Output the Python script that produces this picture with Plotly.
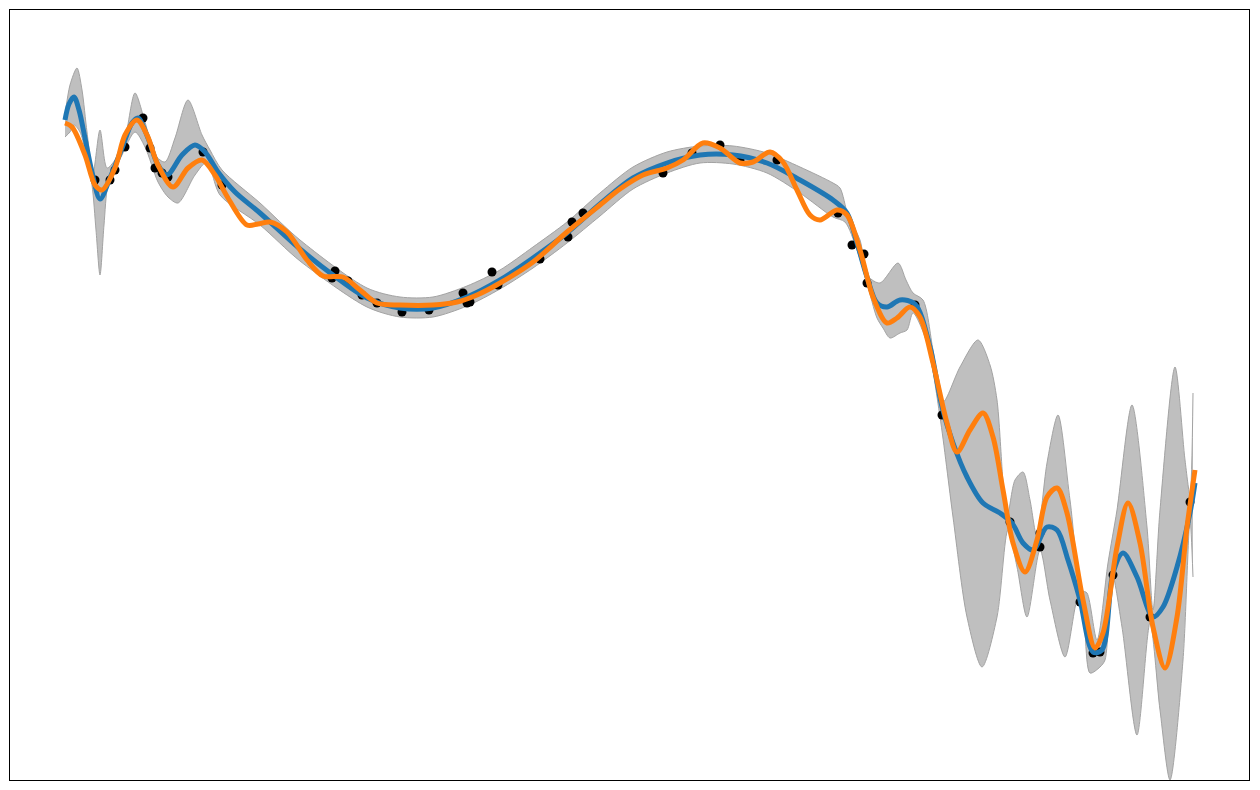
import plotly.graph_objects as go

# GP regression picture: observations, posterior mean, +/- band and one sample.
# Values in its own plot units (y grows downwards).

obs_x = [95, 110, 115, 125, 143, 150, 155, 162, 168, 203, 222, 335, 332, 348, 362,
         377, 402, 429, 463, 467, 470, 492, 498, 540, 568, 572, 583, 663, 692, 720,
         740, 777, 838, 852, 864, 867, 915, 942, 1010, 1040, 1040, 1080, 1093, 1100,
         1113, 1150, 1190]
obs_y = [180, 180, 170, 147, 118, 148, 168, 173, 177, 152, 185, 271, 278, 281, 295,
         303, 312, 310, 293, 303, 302, 272, 285, 259, 237, 222, 213, 173, 153, 145,
         160, 160, 213, 245, 254, 283, 305, 415, 522, 533, 547, 602, 653, 652,
         575, 617, 502]

mean_x = [65, 69, 74, 79, 85, 92, 100, 110, 122, 132, 138, 148, 158, 167, 182, 195,
          205, 218, 235, 260, 300, 333, 367, 400, 433, 467, 500, 533, 567, 600, 633,
          667, 700, 733, 767, 800, 833, 847, 857, 867, 877, 887, 900, 915, 930, 942,
          953, 967, 983, 1000, 1012, 1023, 1033, 1047, 1057, 1068, 1080, 1093, 1102,
          1113, 1123, 1137, 1153, 1163, 1177, 1190, 1195]
mean_y = [120, 104, 97, 110, 138, 172, 199, 178, 148, 123, 118, 138, 165, 175, 155, 145,
          152, 172, 192, 213, 249, 275, 298, 308, 308, 297, 280, 258, 233, 204, 178,
          163, 155, 155, 163, 180, 200, 213, 243, 277, 303, 307, 300, 304, 347, 407,
          443, 477, 503, 513, 523, 543, 550, 527, 530, 560, 600, 652, 650,
          573, 553, 577, 617, 607, 567, 513, 483]

sample_x = [65, 72, 85, 95, 102, 115, 125, 137, 147, 158, 173, 188, 202, 215, 228, 247,
            258, 270, 287, 307, 323, 343, 360, 377, 400, 433, 457, 477, 500, 533, 567,
            600, 620, 643, 667, 683, 703, 720, 740, 753, 770, 783, 797, 810, 820, 837,
            847, 860, 873, 887, 897, 910, 920, 933, 947, 957, 970, 983, 993, 1003,
            1013, 1025, 1037, 1047, 1057, 1067, 1083, 1095, 1103, 1117, 1128, 1140,
            1153, 1165, 1177, 1187, 1195]
sample_y = [123, 127, 155, 185, 190, 168, 135, 120, 135, 165, 187, 168, 160, 175, 198, 225,
            224, 222, 232, 260, 276, 277, 290, 303, 305, 305, 302, 295, 283, 262, 232,
            205, 189, 175, 168, 160, 143, 148, 163, 162, 152, 162, 190, 215, 220, 210,
            215, 250, 297, 323, 318, 307, 317, 363, 423, 452, 430, 413, 437, 490,
            543, 572, 540, 497, 488, 513, 600, 648, 633, 547, 503, 543,
            627, 668, 617, 527, 470]

upper_x = [65, 70, 77, 82, 87, 93, 100, 107, 115, 125, 135, 145, 155, 165, 175, 188,
           202, 210, 222, 260, 300, 367, 400, 433, 467, 500, 533, 567, 600, 633, 667,
           700, 733, 767, 800, 833, 840, 848, 860, 868, 880, 898, 906, 913, 923, 933,
           943, 960, 978, 990, 997, 1007, 1015, 1023, 1030, 1037, 1047, 1058, 1070,
           1082, 1087, 1097, 1108, 1117, 1132, 1147, 1153, 1160, 1175, 1185, 1190, 1193]
upper_y = [115, 85, 68, 90, 132, 173, 130, 168, 160, 138, 93, 122, 155, 162, 138, 100,
           135, 150, 170, 203, 240, 288, 297, 297, 286, 270, 247, 222, 193, 167, 152,
           146, 146, 153, 167, 183, 188, 215, 240, 276, 283, 263, 280, 293, 300, 350,
           402, 367, 340, 365, 400, 517, 480, 472, 500, 537, 463, 415, 500,
           590, 593, 640, 563, 510, 405, 527, 610, 510, 367, 460, 495, 393]

lower_x = [65, 70, 74, 80, 85, 92, 96, 100, 104, 108, 115, 122, 135, 145, 158, 168, 178,
           195, 207, 220, 260, 300, 367, 400, 433, 467, 500, 533, 567, 600, 633, 667,
           700, 733, 767, 800, 833, 845, 857, 867, 877, 883, 890, 900, 907, 913, 927,
           940, 953, 967, 982, 997, 1008, 1017, 1027, 1040, 1050, 1065, 1077, 1082,
           1090, 1100, 1105, 1112, 1122, 1137, 1150, 1160, 1170, 1183, 1190, 1193]
lower_y = [137, 132, 125, 132, 150, 185, 230, 275, 225, 185, 170, 155, 132, 147, 182, 197,
           203, 175, 162, 195, 225, 261, 307, 317, 317, 306, 289, 268, 243, 216, 189,
           173, 163, 164, 173, 193, 217, 222, 250, 283, 318, 328, 338, 333, 330, 313,
           343, 417, 517, 617, 667, 617, 530, 567, 617, 550, 600, 657, 600, 593,
           673, 667, 660, 573, 627, 735, 623, 710, 780, 660, 520, 577]

BAND_FILL = "#bfbfbf"
BAND_EDGE = "#a3a3a3"
BLUE = "#1f77b4"
ORANGE = "#ff7f0e"

fig = go.Figure()

# --- confidence band ---
fig.add_trace(go.Scatter(
    x=lower_x, y=lower_y, mode="lines",
    line=dict(color=BAND_EDGE, width=1, shape="spline", smoothing=0.8),
    hoverinfo="skip", showlegend=False,
))
fig.add_trace(go.Scatter(
    x=upper_x, y=upper_y, mode="lines", fill="tonexty", fillcolor=BAND_FILL,
    line=dict(color=BAND_EDGE, width=1, shape="spline", smoothing=0.8),
    hoverinfo="skip", showlegend=False,
))

# --- observations ---
fig.add_trace(go.Scatter(
    x=obs_x, y=obs_y, mode="markers",
    marker=dict(color="black", size=9),
    name="observations", showlegend=False,
))

# --- posterior mean and sample ---
fig.add_trace(go.Scatter(
    x=mean_x, y=mean_y, mode="lines",
    line=dict(color=BLUE, width=5, shape="spline", smoothing=0.9),
    name="mean", showlegend=False,
))
fig.add_trace(go.Scatter(
    x=sample_x, y=sample_y, mode="lines",
    line=dict(color=ORANGE, width=5, shape="spline", smoothing=0.9),
    name="sample", showlegend=False,
))

axis_style = dict(
    showticklabels=False, ticks="", showgrid=False, zeroline=False,
    showline=True, mirror=True, linecolor="black", linewidth=1,
)

# page body has an 8px margin, so the figure is a bit smaller than the window
fig.update_layout(
    width=1244, height=774,
    margin=dict(l=2, r=3, t=2, b=2),
    paper_bgcolor="white", plot_bgcolor="white",
    xaxis=dict(range=[10, 1249], **axis_style),
    yaxis=dict(range=[780, 10], **axis_style),
)

fig.write_html("out.html")
